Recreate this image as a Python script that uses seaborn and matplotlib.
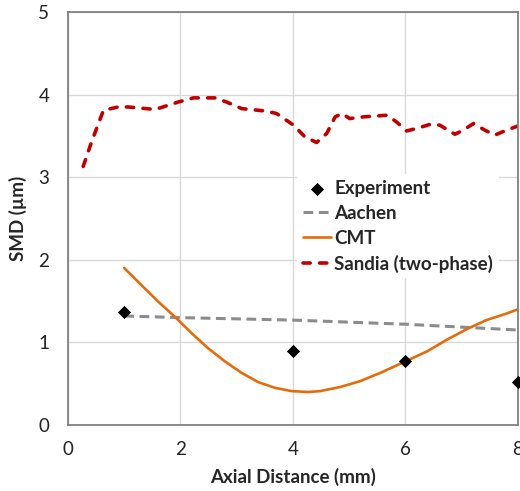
import matplotlib
matplotlib.use("Agg")
import matplotlib.pyplot as plt
import seaborn as sns

# ---------------------------------------------------------------------------
# Data
# ---------------------------------------------------------------------------

EXP_X = [1.0, 4.0, 6.0, 8.0]
EXP_Y = [1.37, 0.89, 0.77, 0.52]

AACHEN_X = [1.0, 2.0, 4.0, 6.0, 8.0]
AACHEN_Y = [1.32, 1.30, 1.27, 1.22, 1.15]

CMT_X = [1.0, 1.31, 1.61, 1.90, 2.20, 2.49, 2.79, 3.09, 3.38, 3.68, 3.98, 4.27,
         4.48, 4.84, 5.19, 5.55, 6.0, 6.38, 6.73, 7.09, 7.44, 7.80, 8.0]
CMT_Y = [1.90, 1.69, 1.49, 1.31, 1.11, 0.93, 0.77, 0.63, 0.52, 0.45, 0.41, 0.40,
         0.41, 0.46, 0.53, 0.63, 0.77, 0.89, 1.03, 1.16, 1.27, 1.35, 1.40]

SANDIA_X = [0.27, 0.42, 0.63, 0.89, 1.07, 1.55, 1.96, 2.23, 2.61, 2.82, 3.09, 3.53,
            3.71, 4.01, 4.21, 4.42, 4.60, 4.75, 4.87, 5.01, 5.25, 5.67, 5.84, 6.02,
            6.20, 6.44, 6.61, 6.88, 7.03, 7.21, 7.41, 7.59, 7.80, 8.0]
SANDIA_Y = [3.13, 3.43, 3.81, 3.85, 3.85, 3.82, 3.91, 3.96, 3.96, 3.91, 3.83, 3.80,
            3.77, 3.63, 3.49, 3.42, 3.53, 3.73, 3.77, 3.71, 3.73, 3.75, 3.67, 3.56,
            3.59, 3.64, 3.63, 3.52, 3.57, 3.65, 3.57, 3.51, 3.57, 3.62]

X_TICKS = [0, 2, 4, 6, 8]
Y_TICKS = [0, 1, 2, 3, 4, 5]

# ---------------------------------------------------------------------------
# Style
# ---------------------------------------------------------------------------

sns.set_style("white")
plt.rcParams["font.family"] = ["Lato", "DejaVu Sans"]

ORANGE = "#E46C0A"
GREY   = "#8C8C8C"
RED    = "#C00000"
SPINE  = "#808080"
GRID   = "#D9D9D9"
FS     = 13.5

fig = plt.figure(figsize=(5.2, 4.91), dpi=100)
ax = fig.add_axes([0.1308, 0.1344, 0.8652, 0.8412])

sns.scatterplot(x=EXP_X, y=EXP_Y, marker="D", s=45, color="black",
                edgecolor="black", linewidth=0, label="Experiment", zorder=5,
                clip_on=False, ax=ax)
sns.lineplot(x=AACHEN_X, y=AACHEN_Y, color=GREY, linewidth=2.2,
             label="Aachen", ax=ax)
sns.lineplot(x=CMT_X, y=CMT_Y, color=ORANGE, linewidth=1.9, label="CMT", ax=ax)
sns.lineplot(x=SANDIA_X, y=SANDIA_Y, color=RED, linewidth=2.6,
             label="Sandia (two-phase)", ax=ax)

lines = ax.get_lines()
lines[0].set_dashes((3.2, 1.8))
lines[2].set_dashes((2.0, 2.6))
lines[2].set_dash_capstyle("round")

ax.set_xlim(0, 8)
ax.set_ylim(0, 5)
ax.set_xticks(X_TICKS)
ax.set_yticks(Y_TICKS)
ax.grid(True, color=GRID, linewidth=1.0)
ax.set_axisbelow(True)
for spine in ax.spines.values():
    spine.set_edgecolor(SPINE)
    spine.set_linewidth(1.3)
ax.tick_params(axis="both", length=4.5, width=1, color=GRID, labelsize=FS,
               labelcolor="#222222", direction="out")
ax.tick_params(axis="x", pad=7)
ax.tick_params(axis="y", pad=9)

ax.set_xlabel("Axial Distance (mm)", fontsize=FS, fontweight="bold", labelpad=7)
ax.set_ylabel("SMD (µm)", fontsize=FS, fontweight="bold", labelpad=8)

leg = ax.legend(loc="upper left", bbox_to_anchor=(0.51, 0.607), frameon=True,
                fontsize=FS, handlelength=1.5, handletextpad=0.15,
                labelspacing=0.42, borderpad=0.3, borderaxespad=0)
leg.get_frame().set_edgecolor("none")
leg.get_frame().set_facecolor("white")
leg.get_frame().set_alpha(1)
for t in leg.get_texts():
    t.set_fontweight("bold")

fig.savefig("out.png", dpi=100)
